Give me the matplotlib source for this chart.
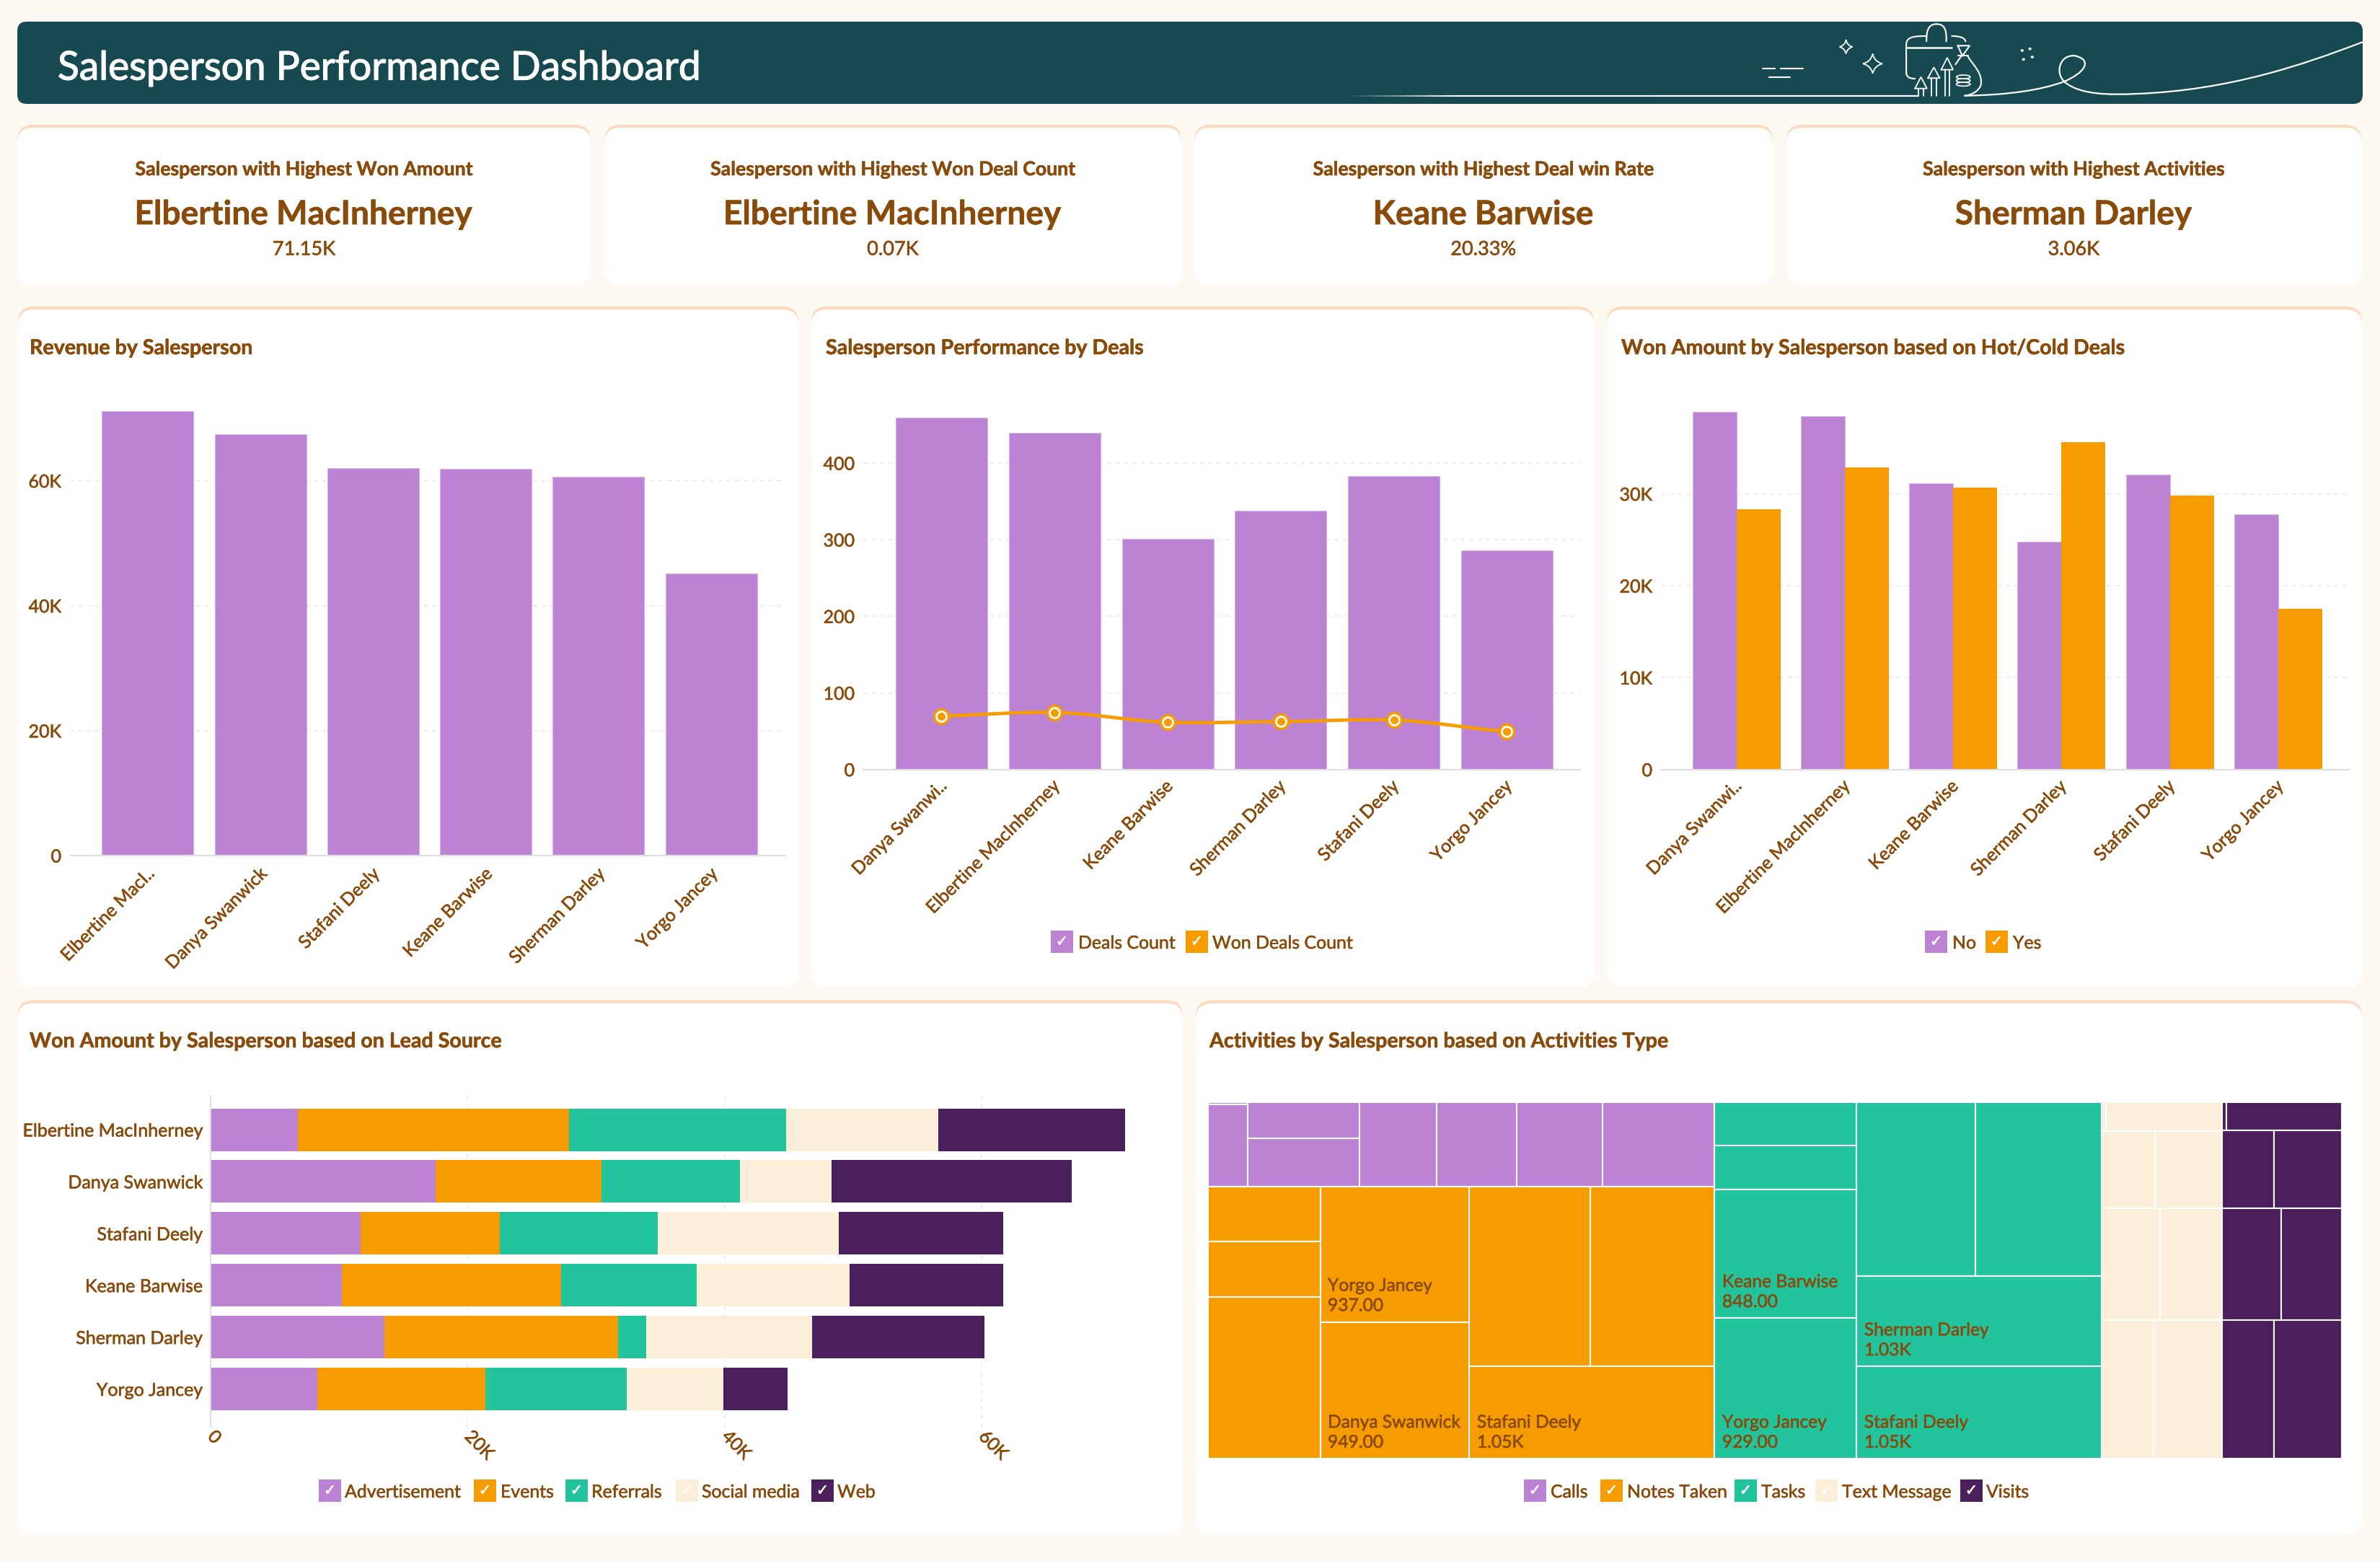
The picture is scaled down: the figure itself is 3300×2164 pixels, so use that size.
import matplotlib
matplotlib.use("Agg")
import matplotlib.pyplot as plt
import matplotlib.patheffects as pe
import numpy as np
from matplotlib.patches import FancyBboxPatch, Rectangle, PathPatch, Ellipse
from matplotlib.path import Path
from matplotlib.text import Text
from matplotlib.ticker import FuncFormatter
from matplotlib.transforms import ScaledTranslation

# ---------- data ----------
revenue_names = ["Elbertine MacI..", "Danya Swanwick", "Stafani Deely", "Keane Barwise", "Sherman Darley", "Yorgo Jancey"]
revenue_values = [71150, 67400, 62000, 61900, 60600, 45200]

deal_names = ["Danya Swanwi..", "Elbertine MacInherney", "Keane Barwise", "Sherman Darley", "Stafani Deely", "Yorgo Jancey"]
deals_count = [459, 439, 301, 338, 383, 286]
won_deals_count = [69.7, 74.5, 61.6, 62.5, 64.5, 49.6]

hot_no = [38900, 38400, 31100, 24800, 32100, 27750]
hot_yes = [28300, 32900, 30700, 35600, 29800, 17450]

lead_names = ["Elbertine MacInherney", "Danya Swanwick", "Stafani Deely", "Keane Barwise", "Sherman Darley", "Yorgo Jancey"]
lead_advertisement = [6800, 17500, 11700, 10200, 13500, 8300]
lead_events = [21100, 12900, 10800, 17100, 18200, 13100]
lead_referrals = [16900, 10800, 12300, 10500, 2200, 11000]
lead_social = [11800, 7100, 14100, 11900, 12900, 7500]
lead_web = [14550, 18700, 12800, 12000, 13400, 5000]

# treemap leaves: a number, or (name, number) when the cell carries a label
calls_cells = [[3.9, 152], [190, 252], 304, 316, 337, 442]
notes_cells = [[285, 289, 845], [("Yorgo Jancey", 937), ("Danya Swanwick", 949)],
               [[1013, 1038], ("Stafani Deely", 1050)]]
tasks_cells = [[[286, 293, ("Keane Barwise", 848), ("Yorgo Jancey", 929)],
                [[957, 1019], ("Sherman Darley", 1030), ("Stafani Deely", 1050)]]]
text_cells = [[6, 155], [193, 243], [305, 321], [335, 443]]
visits_cells = [[6, 152], [188, 247], [309, 313], [335, 438]]

card_heads = ["Salesperson with Highest Won Amount", "Salesperson with Highest Won Deal Count",
              "Salesperson with Highest Deal win Rate", "Salesperson with Highest Activities"]
card_names = ["Elbertine MacInherney", "Elbertine MacInherney", "Keane Barwise", "Sherman Darley"]
card_values = ["71.15K", "0.07K", "20.33%", "3.06K"]

# ---------- style ----------
W, H = 3300, 2164
BG = "#FFF9F3"
TEAL = "#174A50"
BROWN = "#8A4A0A"
PEACH = "#FFD9BD"
PURPLE = "#BC82D3"
ORANGE = "#F79C00"
GREEN = "#21C49D"
CREAM = "#FBEFD9"
DARK = "#4A1F5C"
GRID = "#EDEDED"
PALETTE = [PURPLE, ORANGE, GREEN, CREAM, DARK]

plt.rcParams["font.family"] = ["Lato", "DejaVu Sans"]
plt.rcParams["text.color"] = BROWN
LABEL = 18
LEGEND = 17.9

fig = plt.figure(figsize=(W / 100, H / 100), dpi=100, facecolor=BG)


def px_axes(x0, y0, x1, y1, **kw):
    return fig.add_axes([x0 / W, 1 - y1 / H, (x1 - x0) / W, (y1 - y0) / H], **kw)


bg = px_axes(0, 0, W, H, zorder=0)
bg.set_xlim(0, W)
bg.set_ylim(H, 0)
bg.axis("off")


def box(x0, y0, x1, y1, r, color, z=1):
    bg.add_patch(FancyBboxPatch((x0, y0), x1 - x0, y1 - y0, boxstyle=f"round,pad=0,rounding_size={r}",
                                fc=color, ec="none", zorder=z))


def card(x0, y0, x1, y1):
    box(x0, y0, x1, y1 - 6, 22, PEACH, 1)
    box(x0, y0 + 4, x1, y1, 22, "white", 2)


# ---------- banner ----------
box(24, 30, 3276, 144, 13, TEAL, 1)
title = bg.text(80, 95, "Salesperson Performance Dashboard", color="white", fontsize=39.6, va="center", ha="left",
                zorder=5)


def zx(v):
    return 2300 + v / 1.568


def zy(v):
    return v / 3


def art(points, codes=None, lw=1.5):
    pts = [(zx(a), zy(b)) for a, b in points]
    if codes is None:
        codes = [Path.MOVETO] + [Path.LINETO] * (len(pts) - 1)
    bg.add_patch(PathPatch(Path(pts, codes), fc="none", ec="white", lw=lw, capstyle="round", zorder=4))


M, L, C = Path.MOVETO, Path.LINETO, Path.CURVE4
# fading baseline
fade_x = np.linspace(1873, zx(0), 40)
for i in range(39):
    bg.plot(fade_x[i:i + 2], [133, 133], color="white", lw=1.5, alpha=min(1, (i + 1) / 14), zorder=4,
            solid_capstyle="butt")
# flourish with loop
art([(665, 398), (760, 395), (830, 375), (880, 340), (925, 305), (945, 250), (905, 232), (870, 225), (860, 310), (885, 345),
     (920, 395), (980, 395), (1040, 390), (1240, 375), (1400, 270), (1530, 175)],
    [M, C, C, C, C, C, C, C, C, C, C, C, C, C, C, C], lw=1.6)
# dashes
art([(226, 285), (252, 285)])
art([(265, 285), (314, 285)])
art([(240, 321), (285, 321)])


# stars
def star(cx, cy, rx, ry):
    art([(cx, cy - ry), (cx + .2 * rx, cy - .2 * ry), (cx + rx, cy), (cx + .2 * rx, cy + .2 * ry), (cx, cy + ry),
         (cx - .2 * rx, cy + .2 * ry), (cx - rx, cy), (cx - .2 * rx, cy - .2 * ry), (cx, cy - ry)],
        [M, Path.CURVE3, Path.CURVE3, Path.CURVE3, Path.CURVE3, Path.CURVE3, Path.CURVE3, Path.CURVE3, Path.CURVE3], lw=1.3)


star(407, 195, 14, 28)
star(465, 265, 21, 40)
# clipboard
art([(582, 150), (560, 150), (538, 150), (538, 185), (538, 300)], [M, C, C, C, L])
art([(538, 300), (538, 320), (545, 327), (557, 327)], [M, C, C, C])
art([(538, 197), (637, 197)], lw=1.8)
art([(582, 172), (582, 130), (585, 100), (604, 100), (623, 100), (626, 130), (625, 172)], [M, C, C, C, C, C, C])
art([(637, 150), (652, 150), (665, 155), (667, 172)], [M, C, C, C])
# money bag
art([(650, 190), (676, 190), (660, 232), (650, 190)])
art([(672, 235), (685, 275), (705, 305), (700, 355), (695, 380), (680, 395), (665, 398)], [M, C, C, C, C, C, C])
art([(657, 235), (645, 268)])
art([(650, 232), (672, 232)])
for cy in (320, 335, 350):
    bg.add_patch(Ellipse((zx(662), zy(cy)), 30 / 1.568, 16 / 3, fc=TEAL, ec="white", lw=1.2, zorder=4))
# arrows
for ax_, apex, base in ((570, 320, 368), (598, 280, 325), (627, 240, 290)):
    art([(ax_ - 13, base), (ax_, apex), (ax_ + 13, base), (ax_ - 13, base)], lw=1.3)
    art([(ax_ - 5, base), (ax_ - 5, 398)], lw=1.3)
    art([(ax_ + 5, base), (ax_ + 5, 398)], lw=1.3)
art([(0, 398), (565, 398)], lw=1.6)
for a, b in ((790, 210), (807, 203), (793, 247), (812, 237)):
    bg.add_patch(Ellipse((zx(a), zy(b)), 4.2, 3.6, fc="white", ec="none", zorder=4))

# ---------- KPI cards ----------
card_x = [(24, 819), (838, 1638), (1656, 2458), (2477, 3274)]
for (x0, x1), head, name, val in zip(card_x, card_heads, card_names, card_values):
    card(x0, 173, x1, 395)
    cx = (x0 + x1) / 2
    bg.text(cx, 235, head, fontsize=19.2, fontweight="bold", ha="center", va="center", zorder=5)
    bg.text(cx, 298, name, fontsize=33.2, fontweight="bold", ha="center", va="center", zorder=5)
    bg.text(cx, 346, val, fontsize=19.5, ha="center", va="center", zorder=5)

# ---------- chart cards ----------
card(25, 425, 1107, 1368)
card(1125, 425, 2210, 1368)
card(2228, 425, 3275, 1368)
card(24, 1387, 1640, 2127)
card(1658, 1387, 3275, 2127)
for x, y, t in ((41, 483, "Revenue by Salesperson"), (1145, 483, "Salesperson Performance by Deals"),
                (2248, 483, "Won Amount by Salesperson based on Hot/Cold Deals"),
                (41, 1444, "Won Amount by Salesperson based on Lead Source"),
                (1677, 1444, "Activities by Salesperson based on Activities Type")):
    bg.text(x, y, t, fontsize=20.6, fontweight="bold", ha="left", va="center", zorder=5)


def legend(items, top, size=31):
    for (sq, tx, label, col) in items:
        bg.add_patch(Rectangle((sq, top), size, size, fc=col, ec="none", zorder=5))
        bg.text(sq + size / 2, top + size / 2, "\u2713", color="white", fontsize=15, ha="center", va="center",
                family="DejaVu Sans", zorder=6)
        bg.text(tx, top + size / 2 + 2, label, fontsize=LEGEND, ha="left", va="center", zorder=6)


legend([(1457, 1495, "Deals Count", PURPLE), (1644, 1681, "Won Deals Count", ORANGE)], 1290)
legend([(2669, 2707, "No", PURPLE), (2753, 2791, "Yes", ORANGE)], 1290)
legend([(442, 478, "Advertisement", PURPLE), (657, 694, "Events", ORANGE), (784, 820, "Referrals", GREEN),
        (937, 973, "Social media", CREAM), (1125, 1161, "Web", DARK)], 2051)
legend([(2113, 2150, "Calls", PURPLE), (2219, 2256, "Notes Taken", ORANGE), (2405, 2442, "Tasks", GREEN),
        (2517, 2554, "Text Message", CREAM), (2718, 2754, "Visits", DARK)], 2051)


# ---------- charts ----------
def style_vbar(ax, names, ticks, fmt, xlim, ylim, pad_x=14, shift_px=3):
    ax.set_facecolor("none")
    ax.set_xlim(*xlim)
    ax.set_ylim(*ylim)
    for s in ("top", "left", "right"):
        ax.spines[s].set_visible(False)
    ax.spines["bottom"].set_color("#DEDEDE")
    ax.spines["bottom"].set_linewidth(1.5)
    ax.set_axisbelow(True)
    ax.yaxis.grid(True, color=GRID, lw=1.4, ls=(0, (3, 3)))
    ax.set_yticks(ticks)
    ax.yaxis.set_major_formatter(FuncFormatter(fmt))
    ax.tick_params(axis="y", length=0, pad=8.6, labelsize=LABEL, labelcolor=BROWN)
    ax.set_xticks(range(len(names)))
    ax.set_xticklabels(names, rotation=45, ha="right", va="center", rotation_mode="anchor")
    ax.tick_params(axis="x", length=0, pad=pad_x, labelsize=LABEL, labelcolor=BROWN)
    off = ScaledTranslation(shift_px / 100, 0, fig.dpi_scale_trans)
    for t in ax.get_xticklabels():
        t.set_transform(t.get_transform() + off)


def kfmt(v, _):
    return "0" if v == 0 else f"{v / 1000:.0f}K"


def nfmt(v, _):
    return f"{v:.0f}"


EDGE = "#D8B4E6"
# Revenue
ax1 = px_axes(97, 533, 1089, 1186, zorder=2)
style_vbar(ax1, revenue_names, [0, 20000, 40000, 60000], kfmt,
           ((97 - 204.7) / 156.3, (1089 - 204.7) / 156.3), (0, (1186 - 533) / 8.66 * 1000), pad_x=15.5, shift_px=5)
ax1.bar(range(6), revenue_values, width=127 / 156.3, color=PURPLE, edgecolor=EDGE, linewidth=0.7)

# Deals
ax2 = px_axes(1197, 533, 2191, 1066.7, zorder=2)
style_vbar(ax2, deal_names, [0, 100, 200, 300, 400], nfmt,
           ((1197 - 1305.4) / 156.8, (2191 - 1305.4) / 156.8), (0, (1066.7 - 533) / 1.062))
ax2.bar(range(6), deals_count, width=127 / 156.8, color=PURPLE, edgecolor=EDGE, linewidth=0.7)


def smooth_path(xs, ys):
    xs, ys = np.asarray(xs, float), np.asarray(ys, float)
    tang = np.gradient(ys, xs) * 0.75
    verts, codes = [(xs[0], ys[0])], [Path.MOVETO]
    for i in range(len(xs) - 1):
        d = (xs[i + 1] - xs[i]) / 3
        verts += [(xs[i] + d, ys[i] + tang[i] * d), (xs[i + 1] - d, ys[i + 1] - tang[i + 1] * d), (xs[i + 1], ys[i + 1])]
        codes += [Path.CURVE4] * 3
    return Path(verts, codes)


ax2.add_patch(PathPatch(smooth_path(range(6), won_deals_count), fc="none", ec=ORANGE, lw=3.4, capstyle="round", zorder=3))
ax2.plot(range(6), won_deals_count, ls="none", marker="o", ms=17, mfc=ORANGE, mec="none", zorder=4)
ax2.plot(range(6), won_deals_count, ls="none", marker="o", ms=12, mfc="white", mec="none", zorder=5)
ax2.plot(range(6), won_deals_count, ls="none", marker="o", ms=8, mfc=ORANGE, mec="none", zorder=6)

# Hot / cold
ax3 = px_axes(2303, 533, 3257, 1066.7, zorder=2)
style_vbar(ax3, deal_names, [0, 10000, 20000, 30000], kfmt,
           ((2303 - 2407.5) / 150.3, (3257 - 2407.5) / 150.3), (0, (1066.7 - 533) / 12.74 * 1000))
bw = 61 / 150.3
pos = np.arange(6)
ax3.bar(pos - bw / 2, hot_no, width=bw, color=PURPLE, edgecolor=EDGE, linewidth=0.7)
ax3.bar(pos + bw / 2, hot_yes, width=bw, color=ORANGE, linewidth=0)

# Lead source stacked bars
ax4 = px_axes(292, 1519, 1600, 1979, zorder=2)
ax4.set_facecolor("none")
ax4.set_xlim(0, (1600 - 292) / 17.82 * 1000)
ax4.set_ylim((1979 - 1566) / 71.9, (1519 - 1566) / 71.9)
for s in ("top", "bottom", "right"):
    ax4.spines[s].set_visible(False)
ax4.spines["left"].set_color("#DEDEDE")
ax4.spines["left"].set_linewidth(1.3)
ax4.set_axisbelow(True)
ax4.xaxis.grid(True, color=GRID, lw=1.4, ls=(0, (3, 3)))
ax4.set_xticks([0, 20000, 40000, 60000])
ax4.xaxis.set_major_formatter(FuncFormatter(kfmt))
ax4.tick_params(axis="x", length=0, pad=6, labelsize=LABEL, labelcolor=BROWN)
for t in ax4.get_xticklabels():
    t.set_rotation(-45)
    t.set_ha("left")
    t.set_va("center")
    t.set_rotation_mode("anchor")
ax4.set_yticks(range(6))
ax4.set_yticklabels(lead_names)
ax4.tick_params(axis="y", length=0, pad=8, labelsize=LABEL, labelcolor=BROWN)
left = np.zeros(6)
for vals, col in zip((lead_advertisement, lead_events, lead_referrals, lead_social, lead_web), PALETTE):
    ax4.barh(range(6), vals, left=left, height=59 / 71.9, color=col, linewidth=0)
    left += np.asarray(vals, float)


# Treemap
def leaf_value(n):
    if isinstance(n, list):
        return sum(leaf_value(c) for c in n)
    return n[1] if isinstance(n, tuple) else n


def layout(node, rect, horizontal, path, out):
    if not isinstance(node, list):
        out.append((rect, node, path))
        return
    total = leaf_value(node)
    x, y, w, h = rect
    for i, child in enumerate(node):
        f = leaf_value(child) / total
        if horizontal:
            sub = (x, y, w * f, h)
            x += w * f
        else:
            sub = (x, y, w, h * f)
            y += h * f
        layout(child, sub, not horizontal, path + [i], out)


def compact(v):
    return f"{v / 1000:.2f}K" if v >= 1000 else f"{v:.2f}"


ax5 = px_axes(1675, 1528, 3247, 2022, zorder=2)
ax5.set_xlim(0, 1)
ax5.set_ylim(1, 0)
ax5.axis("off")
cells = []
layout([[calls_cells, notes_cells], tasks_cells, text_cells, visits_cells], (0, 0, 1, 1), True, [], cells)
for (x, y, w, h), node, path in cells:
    group = path[1] if path[0] == 0 else path[0] + 1
    ax5.add_patch(Rectangle((x, y), w, h, fc=PALETTE[group], ec="white", lw=1.5, clip_on=False))
    if isinstance(node, tuple):
        ax5.annotate(f"{node[0]}\n{compact(node[1])}", xy=(x, y + h), xytext=(7.5, 8), textcoords="offset points",
                     fontsize=17.7, ha="left", va="bottom", linespacing=1.25, color=BROWN, zorder=5)

# the reference text renders a little heavier than Lato at this size
fig.canvas.draw()
for t in fig.findobj(Text):
    if t.get_text():
        t.set_path_effects([pe.withStroke(linewidth=0.4, foreground=t.get_color())])
title.set_path_effects([pe.withStroke(linewidth=0.9, foreground="white")])

fig.savefig("out.png", dpi=100, facecolor=BG)
